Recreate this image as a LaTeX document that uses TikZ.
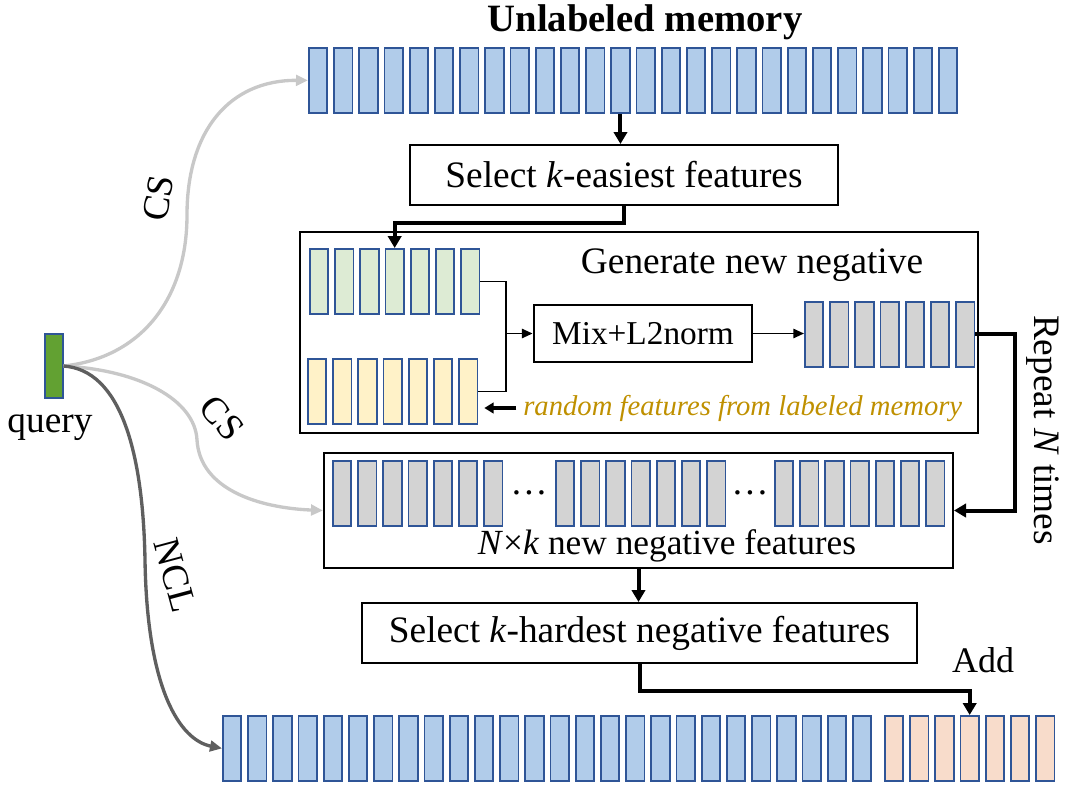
\documentclass[tikz,border=0pt]{standalone}
\usepackage{fontspec}
\setmainfont{Liberation Serif}
\usetikzlibrary{arrows.meta}
\definecolor{memblue}{HTML}{B1CCEA}
\definecolor{bardraw}{HTML}{2F5597}
\definecolor{easygreen}{HTML}{DDEBD4}
\definecolor{randyellow}{HTML}{FFF2C8}
\definecolor{neggray}{HTML}{D3D3D3}
\definecolor{addorange}{HTML}{F8DCCB}
\definecolor{querygreen}{HTML}{62A132}
\definecolor{randgold}{HTML}{BF9000}
\definecolor{csgray}{HTML}{C8C8C8}
\definecolor{nclgray}{HTML}{5F5F5F}
\tikzset{
	bar/.style={draw=bardraw,line width=1.3pt,minimum width=13.8pt,minimum height=48.8pt,inner sep=0pt,anchor=north west},
	box/.style={draw,line width=1.5pt,inner sep=0pt},
	big/.style={font=\fontsize{28}{30}\selectfont},
	thickarrow/.style={line width=3pt,-{Triangle[length=9pt,width=10pt]}},
	thinarrow/.style={line width=1.3pt,-{Triangle[length=8pt,width=7pt]}},
	csarrow/.style={csgray,line width=2.5pt,-{Triangle[length=9pt,width=8pt]}},
	nclarrow/.style={nclgray,line width=2.5pt,-{Triangle[length=9pt,width=8pt]}}
}
\begin{document}
\begin{tikzpicture}[x=0.75pt,y=-0.75pt]
	\useasboundingbox (0,0) rectangle (1069,792);
	\node[font=\fontsize{29}{30}\selectfont\bfseries] (title) at (645,22) {Unlabeled memory};
	\foreach \i in {1,...,26}
		\node[bar,fill=memblue] (um\i) at ({308+25.2*(\i-1)},47) {};
	\node[box,big,minimum width=321pt,minimum height=45pt] (easy) at (624,175) {Select \textit{k}-easiest features};
	\node[box,minimum width=508.5pt,minimum height=150.75pt] (gen) at (639,332.5) {};
	\node[big] (gentext) at (752,265) {Generate new negative};
	\foreach \i in {1,...,7}{
		\node[bar,fill=easygreen] (g\i) at ({309+25.2*(\i-1)},248) {};
		\node[bar,fill=randyellow] (y\i) at ({307+25.2*(\i-1)},358) {};
		\node[bar,fill=neggray] (gn\i) at ({804+25.2*(\i-1)},301) {};
	}
	\node[box,line width=2.2pt,minimum width=163.5pt,minimum height=42.75pt,font=\fontsize{25}{26}\selectfont] (mix) at (643,333.5) {Mix+L2norm};
	\coordinate (join) at (506,333.5);
	\draw[line width=1.3pt] (g7.east) -| (join) |- (y7.east);
	\draw[thinarrow] (join) -- (mix.west);
	\draw[thinarrow] (mix.east) -- (mix.east -| gn1.west);
	\node[font=\fontsize{21.5}{22}\selectfont\itshape,text=randgold,anchor=west,inner sep=0pt] (rand) at (523,408) {random features from labeled memory};
	\draw[line width=3pt,-{Triangle[length=7pt,width=8pt]},shorten <=5pt,shorten >=4.5pt] (rand.west) -- (rand.west -| y7.east);
	\node[box,minimum width=471.75pt,minimum height=86.25pt] (nxk) at (638.5,510.5) {};
	\foreach \i in {1,...,7}{
		\node[bar,fill=neggray] (na\i) at ({332+25.2*(\i-1)},460) {};
		\node[bar,fill=neggray] (nb\i) at ({555+25.2*(\i-1)},460) {};
		\node[bar,fill=neggray] (nc\i) at ({774+25.2*(\i-1)},460) {};
	}
	\node[big] (dots1) at (529,493) {\ldots};
	\node[big] (dots2) at (750,493) {\ldots};
	\node[font=\fontsize{26.5}{27}\selectfont] (nxktext) at (667,546) {\textit{N}×\textit{k} new negative features};
	\node[box,big,minimum width=416.25pt,minimum height=45pt] (hard) at (639.5,633) {Select \textit{k}-hardest negative features};
	\foreach \i in {1,...,26}
		\node[bar,fill=memblue] (bm\i) at ({222+25.2*(\i-1)},715) {};
	\foreach \i in {1,...,7}
		\node[bar,fill=addorange] (ad\i) at ({884+25.2*(\i-1)},715) {};
	\node[font=\fontsize{27}{28}\selectfont] (add) at (983,660) {Add};
	\node[big,rotate=-90] (repeat) at (1043,430) {Repeat \textit{N} times};
	\node[draw=bardraw,fill=querygreen,line width=1.3pt,minimum width=13pt,minimum height=48.5pt,inner sep=0pt] (q) at (54,366) {};
	\node[big] (qtext) at (50,428) {query};
	\draw[thickarrow] (um13.south) -- (um13.south |- easy.north);
	\draw[thickarrow] (easy.south) -- ++(0,17) -| (g4.north);
	\draw[thickarrow] (gn7.east) -- ++(40,0) |- (nxk.east);
	\draw[thickarrow] (nxk.south) -- (nxk.south |- hard.north);
	\draw[thickarrow] (hard.south) -- ++(0,27) -| (ad4.north);
	\draw[csarrow] (q.east) .. controls (140,358) and (187,300) .. (187,215) .. controls (187,130) and (230,80) .. (um1.west);
	\draw[csarrow] (q.east) .. controls (140,370) and (195,400) .. (197,440) .. controls (200,490) and (260,508) .. (nxk.west);
	\draw[nclarrow] (q.east) .. controls (120,370) and (143,450) .. (145,560) .. controls (147,690) and (180,740) .. (bm1.west);
	\node[big,rotate=80] (cs1) at (158,198) {CS};
	\node[big,rotate=-50] (cs2) at (222,418) {CS};
	\node[big,rotate=-75] (ncl) at (175,575) {NCL};
\end{tikzpicture}
\end{document}
